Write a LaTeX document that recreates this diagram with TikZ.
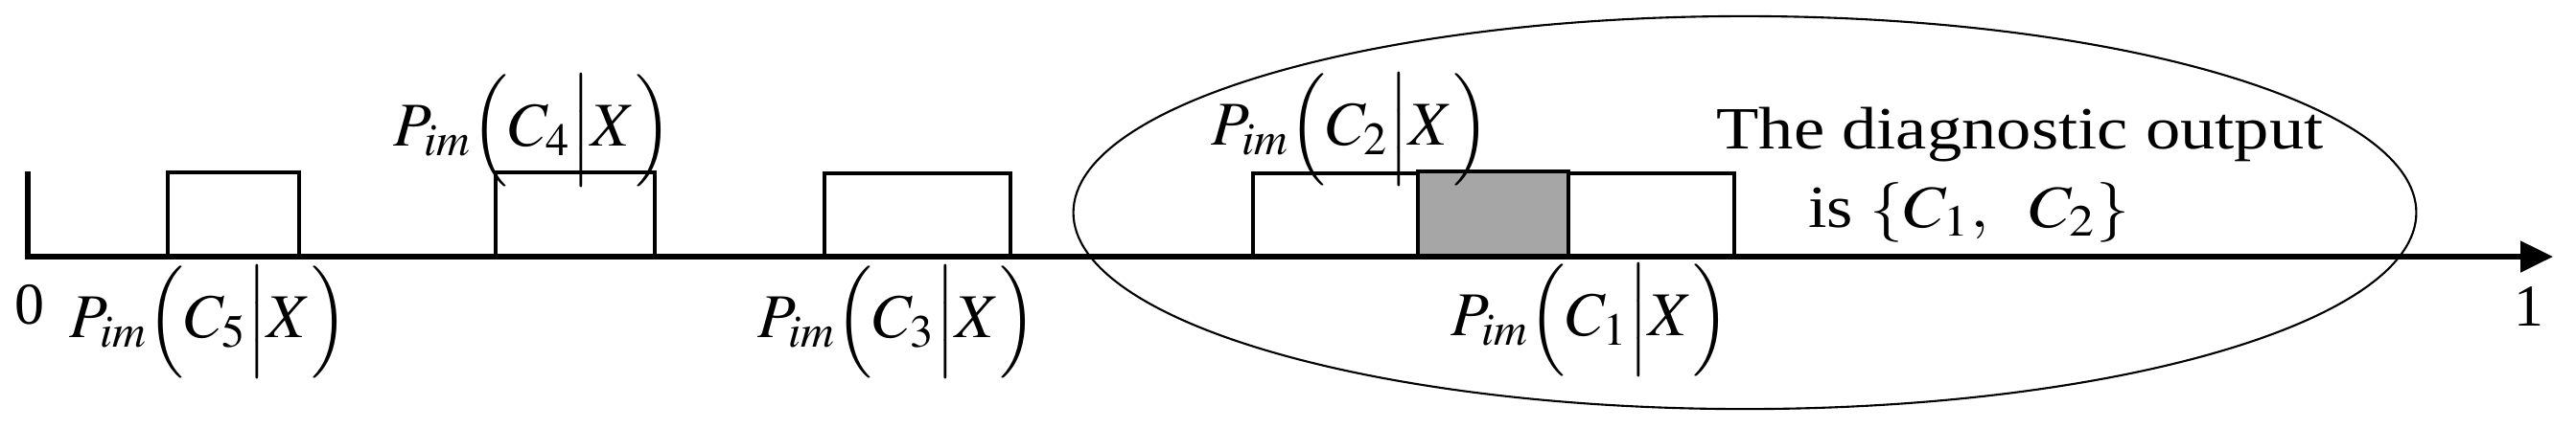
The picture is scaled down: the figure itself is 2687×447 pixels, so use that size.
\documentclass[tikz,border=0pt]{standalone}
\usepackage{mathptmx}
\usepackage{fontspec}
\setmainfont{Liberation Serif}
\usepackage{graphicx}
\usetikzlibrary{arrows.meta}
\definecolor{overlapgray}{RGB}{166,166,166}
\begin{document}
\begin{tikzpicture}[x=0.01cm,y=-0.01cm,
  axisline/.style={line width=1.45pt,line join=miter},
  boxline/.style={line width=1pt,line join=miter},
  ringline/.style={line width=0.6pt},
  lbl/.style={inner sep=0pt,font=\fontsize{18.5}{21}\selectfont},
  num/.style={inner sep=0pt,font=\fontsize{17.6}{20}\selectfont},
  txt/.style={inner sep=0pt,anchor=base,font=\fontsize{17.8}{20}\selectfont}]
\useasboundingbox (0,0) rectangle (2687,447);
% ellipse
\draw[ringline] (1820,222) ellipse [x radius=7cm, y radius=2.05cm];
% boxes
\draw[boxline] (175,268) -- (175,180) -- (312,180) -- (312,268);
\draw[boxline] (517,268) -- (517,180) -- (683,180) -- (683,268);
\draw[boxline] (860,268) -- (860,181) -- (1054,181) -- (1054,268);
\draw[boxline] (1307,268) -- (1307,181) -- (1636,181) -- (1636,268);
\draw[boxline] (1479,268) -- (1479,181) -- (1809,181) -- (1809,268);
\filldraw[boxline,fill=overlapgray,line width=1.3pt] (1479,268) rectangle (1636,179);
% axis
\coordinate (tickTop) at (29,179);
\coordinate (origin) at (29,268);
\coordinate (axisEnd) at (2663,268);
\draw[axisline,-{Triangle[length=0.34cm,width=0.32cm]}] (tickTop) -- (origin) -- (axisEnd);
% labels
\node[lbl] (p5) at (218,336) {$P_{im}\Bigl(C_5\Big|X\Bigr)$};
\node[lbl] (p4) at (556,136) {$P_{im}\Bigl(C_4\Big|X\Bigr)$};
\node[lbl] (p3) at (936,336) {$P_{im}\Bigl(C_3\Big|X\Bigr)$};
\node[lbl] (p2) at (1409,135) {$P_{im}\Bigl(C_2\Big|X\Bigr)$};
\node[lbl] (p1) at (1659,334) {$P_{im}\Bigl(C_1\Big|X\Bigr)$};
\node[num] (zero) at (31,318) {0};
\node[num] (one) at (2638,320) {1};
\node[txt] (out1) at (2107,155) {\scalebox{1.16}[1]{The diagnostic output}};
\node[txt] (out2) at (2054,237) {\scalebox{1.12}[1]{is $\{C_1,\ \ C_2\}$}};
\end{tikzpicture}
\end{document}
